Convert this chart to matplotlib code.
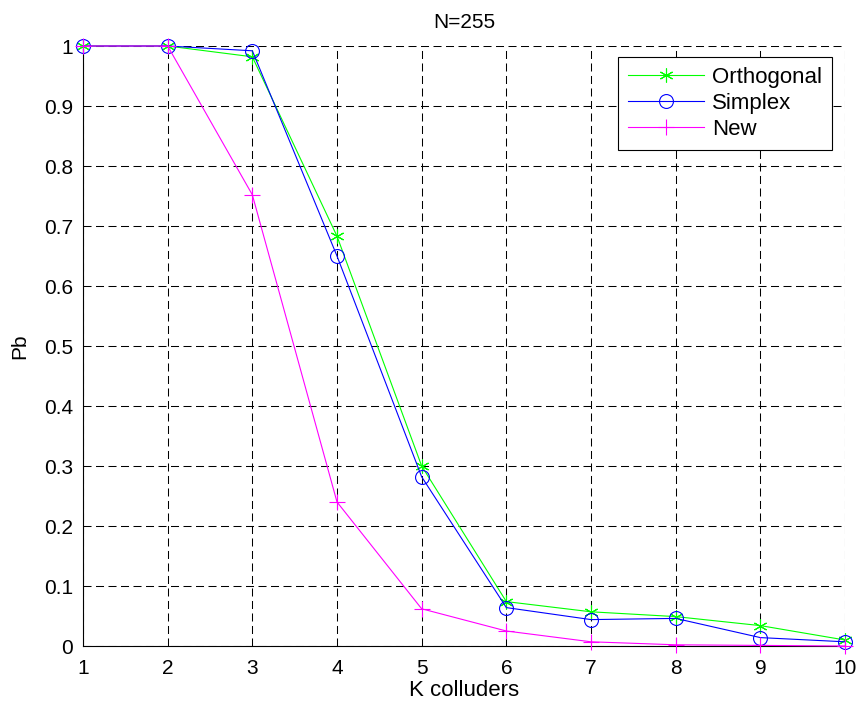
import matplotlib
matplotlib.use("Agg")
import matplotlib.pyplot as plt

plt.rcParams['font.family'] = ['Liberation Sans', 'DejaVu Sans']

k_colluders = [1, 2, 3, 4, 5, 6, 7, 8, 9, 10]
orthogonal = [1.0, 1.0, 0.982, 0.683, 0.300, 0.074, 0.057, 0.049, 0.034, 0.010]
simplex = [1.0, 1.0, 0.992, 0.650, 0.282, 0.064, 0.044, 0.046, 0.014, 0.007]
new = [1.0, 1.0, 0.752, 0.240, 0.062, 0.025, 0.007, 0.002, 0.001, 0.0]

W, H = 863, 709
x0, x1, y0, y1 = 83, 845, 646, 46

fig = plt.figure(figsize=(W / 100, H / 100), dpi=100)
ax = fig.add_axes([x0 / W, 1 - y0 / H, (x1 - x0) / W, (y0 - y1) / H])

asterisk = (6, 2, 0)
ax.plot(k_colluders, orthogonal, color='#00ff00', marker=asterisk, markersize=10,
        markerfacecolor='none', markeredgewidth=0.8, linewidth=0.8,
        label='Orthogonal', clip_on=False, zorder=3)
ax.plot(k_colluders, simplex, color='#0000ff', marker='o', markersize=10,
        markerfacecolor='none', markeredgewidth=0.8, linewidth=0.8,
        label='Simplex', clip_on=False, zorder=3)
ax.plot(k_colluders, new, color='#ff00ff', marker='+', markersize=11,
        markeredgewidth=0.8, linewidth=0.8, label='New', clip_on=False, zorder=3)

ax.set_xlim(1, 10)
ax.set_ylim(0, 1)
ax.set_xticks(range(1, 11))
ax.set_yticks([i / 10 for i in range(11)])
ax.set_yticklabels(['0', '0.1', '0.2', '0.3', '0.4', '0.5', '0.6', '0.7', '0.8', '0.9', '1'])
ax.tick_params(direction='in', labelsize=15, length=5, width=0.6, top=False, right=False)
ax.tick_params(axis='x', pad=9)
ax.tick_params(axis='y', pad=7)
ax.spines['top'].set_visible(False)
ax.spines['right'].set_visible(False)
for s in ('left', 'bottom'):
    ax.spines[s].set_linewidth(0.8)
ax.grid(True, color='black', linestyle=(0, (7.7, 4.3)), linewidth=0.75)
ax.set_axisbelow(True)

ax.set_xlabel('K colluders', fontsize=16, labelpad=2)
ax.set_ylabel('Pb', fontsize=15, labelpad=11)
ax.set_title('N=255', fontsize=15, pad=13)

leg = ax.legend(loc='upper right', bbox_to_anchor=(1 - 13 / 762, 1 - 11 / 600),
                borderaxespad=0, fontsize=16, fancybox=False, edgecolor='black',
                framealpha=1, handlelength=3.4, handletextpad=0.36, borderpad=0.45,
                labelspacing=0.22)
leg.get_frame().set_linewidth(0.8)

fig.savefig('out.png', dpi=100)
